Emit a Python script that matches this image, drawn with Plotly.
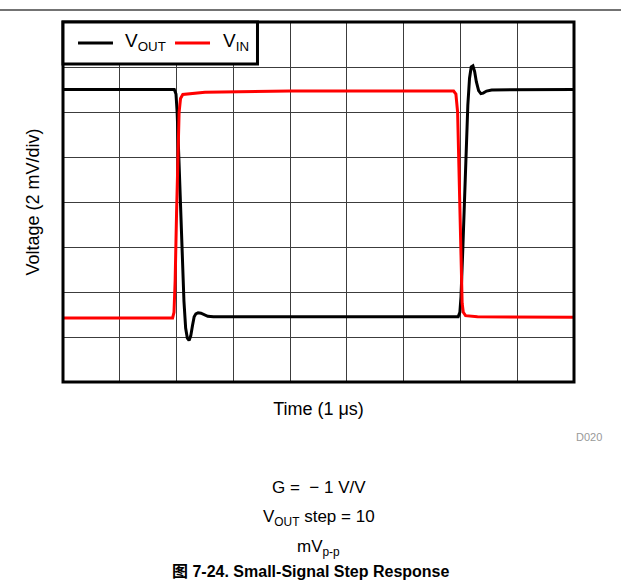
import plotly.graph_objects as go

# Time axis in microseconds (1 us/div), voltage in mV (2 mV/div)
vout_t = [0.00, 1.96, 1.99, 2.01, 2.04, 2.07, 2.10, 2.13, 2.16, 2.19, 2.22, 2.25,
          2.28, 2.31, 2.34, 2.38, 2.43, 2.48, 2.55, 2.65, 6.96, 6.99, 7.01, 7.04,
          7.07, 7.10, 7.13, 7.16, 7.19, 7.22, 7.25, 7.28, 7.32, 7.36, 7.40, 7.46,
          7.55, 9.00]
vout_mv = [5.00, 5.00, 4.80, 4.00, 2.00, -0.20, -2.50, -4.40, -5.60, -6.05, -6.15, -5.95,
           -5.50, -5.10, -4.97, -4.92, -4.94, -5.00, -5.08, -5.10, -5.10, -4.90, -4.20, -2.20,
           0.00, 2.40, 4.30, 5.50, 6.00, 6.05, 5.80, 5.35, 4.95, 4.82, 4.84, 4.93,
           4.98, 5.00]

vin_t = [0.00, 1.93, 1.955, 1.975, 2.00, 2.025, 2.045, 2.07, 2.11, 2.50, 4.00,
         6.88, 6.92, 6.95, 6.97, 6.99, 7.01, 7.03, 7.05, 7.09, 7.30, 9.00]
vin_mv = [-5.15, -5.15, -4.90, -3.50, -0.50, 2.50, 4.00, 4.60, 4.78, 4.88, 4.93,
          4.93, 4.80, 4.00, 2.00, -0.50, -3.00, -4.50, -4.90, -5.05, -5.10, -5.12]

series_names = ["V<sub>OUT</sub>", "V<sub>IN</sub>"]
series_colors = ["black", "#ff0000"]

x_range = [0, 9]
y_range = [-8, 8]

font_main = "Liberation Sans, Arial, Noto Sans CJK SC, sans-serif"

fig = go.Figure()
fig.add_trace(go.Scatter(x=vout_t, y=vout_mv, mode="lines", name=series_names[0],
                         line=dict(color=series_colors[0], width=3)))
fig.add_trace(go.Scatter(x=vin_t, y=vin_mv, mode="lines", name=series_names[1],
                         line=dict(color=series_colors[1], width=3)))

axis_common = dict(showticklabels=False, ticks="", showgrid=True, gridcolor="#3c3c3c",
                   gridwidth=1, zeroline=False, showline=False, fixedrange=True)

fig.update_xaxes(range=x_range, dtick=1, tick0=0,
                 title=dict(text="Time (1 μs)", standoff=20,
                            font=dict(size=18, color="black")),
                 **axis_common)
fig.update_yaxes(range=y_range, dtick=2, tick0=-8,
                 title=dict(text="Voltage (2 mV/div)", standoff=17,
                            font=dict(size=18, color="black")),
                 **axis_common)

# heavy frame centred on the plot edges
fig.add_shape(type="rect", xref="paper", yref="paper", x0=0, x1=1, y0=0, y1=1,
              line=dict(color="black", width=3), layer="above")

# rule across the top of the page
fig.add_shape(type="line", xref="paper", yref="paper", x0=-0.2, x1=1.2,
              y0=1.0333, y1=1.0333, line=dict(color="#444444", width=1.5))

# boxed legend in the upper-left corner of the plot
fig.add_shape(type="rect", xref="paper", yref="paper", x0=0, x1=0.3806, y0=0.8833, y1=1,
              line=dict(color="black", width=3), fillcolor="white", layer="above")
legend_sample_x = [(0.0294, 0.0978), (0.2192, 0.2877)]
legend_text_x = [0.1174, 0.3092]
legend_y = 0.9417
for name, color, (sx0, sx1), tx in zip(series_names, series_colors, legend_sample_x, legend_text_x):
    fig.add_shape(type="line", xref="paper", yref="paper", x0=sx0, x1=sx1,
                  y0=legend_y, y1=legend_y, line=dict(color=color, width=3), layer="above")
    fig.add_annotation(text=name, x=tx, y=legend_y + 0.004, xref="paper", yref="paper",
                       showarrow=False, xanchor="left", yanchor="middle",
                       font=dict(size=19, color="black", family=font_main))

notes = [
    dict(text="D020", x=1.0587, y=-0.153, size=11, color="#999999", anchor="right"),
    dict(text="G =\u00a0\u00a0\u2212 1 V/V", x=0.5, y=-0.294, size=17, color="black", anchor="center"),
    dict(text="V<sub>OUT</sub> step = 10", x=0.5, y=-0.378, size=17, color="black", anchor="center"),
    dict(text="mV<sub>p-p</sub>", x=0.5, y=-0.461, size=17, color="black", anchor="center"),
    dict(text="<b>图 7-24. Small-Signal Step Response</b>", x=0.485, y=-0.525, size=16,
         color="black", anchor="center"),
]
for n in notes:
    fig.add_annotation(text=n["text"], x=n["x"], y=n["y"], xref="paper", yref="paper",
                       showarrow=False, xanchor=n["anchor"], yanchor="middle",
                       font=dict(size=n["size"], color=n["color"], family=font_main))

fig.update_layout(
    width=621, height=587,
    margin=dict(l=63, r=47, t=22, b=205),
    paper_bgcolor="white", plot_bgcolor="white",
    font=dict(family=font_main, color="black"),
    showlegend=False,
)

fig.write_html("out.html")
